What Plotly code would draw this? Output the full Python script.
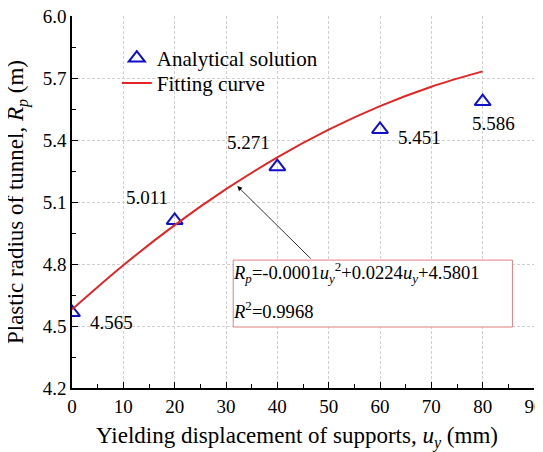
import plotly.graph_objects as go

# Analytical solution points
u_pts = [0, 20, 40, 60, 80]
r_pts = [4.565, 5.011, 5.271, 5.451, 5.586]
labels = ["4.565", "5.011", "5.271", "5.451", "5.586"]
label_dx = [39, -28, -29, 39, 11]
label_dy = [-10, 23, 24, -8, -22]

# Fitting curve
u_fit = [0, 10, 20, 30, 40, 50, 60, 70, 80]
r_fit = [4.580, 4.794, 4.988, 5.162, 5.316, 5.450, 5.564, 5.658, 5.732]

x_ticks = [0, 10, 20, 30, 40, 50, 60, 70, 80, 90]
y_ticks = [4.2, 4.5, 4.8, 5.1, 5.4, 5.7, 6.0]

eq_line1 = "<i>R</i><sub><i>p</i></sub>=-0.0001<i>u</i><sub><i>y</i></sub><sup>2</sup>+0.0224<i>u</i><sub><i>y</i></sub>+4.5801"
eq_line2 = "<i>R</i><sup>2</sup>=0.9968"
y_title = "Plastic radius of tunnel, <i>R</i><sub><i>p</i></sub> (m)"
x_title = "Yielding displacement of supports, <i>u</i><sub><i>y</i></sub> (mm)"

FONT = "Liberation Serif, Times New Roman, serif"
BLUE = "#1010c8"
RED = "#e02626"

fig = go.Figure()
fig.add_trace(go.Scatter(
    x=u_pts, y=r_pts, mode="markers", name="Analytical solution", legend="legend",
    marker=dict(symbol="triangle-up-open", size=14, color=BLUE, line=dict(width=2, color=BLUE)),
))
fig.add_trace(go.Scatter(
    x=u_fit, y=r_fit, mode="lines", name="Fitting curve", legend="legend2",
    line=dict(color=RED, width=2, shape="spline"),
))

for u, r, t, dx, dy in zip(u_pts, r_pts, labels, label_dx, label_dy):
    fig.add_annotation(x=u, y=r, text=t, showarrow=False, xshift=dx, yshift=dy,
                       font=dict(family=FONT, size=19, color="black"))

# equation box
fig.add_shape(type="rect", xref="x", yref="y", x0=31.4, x1=85.8, y0=4.495, y1=4.819,
              line=dict(color="#e08080", width=1), fillcolor="white", layer="above")
fig.add_annotation(x=31.0, y=4.761, xref="x", yref="y", xanchor="left", yanchor="middle",
                   text=eq_line1, showarrow=False, font=dict(family=FONT, size=18.6, color="black"))
fig.add_annotation(x=31.0, y=4.577, xref="x", yref="y", xanchor="left", yanchor="middle",
                   text=eq_line2, showarrow=False, font=dict(family=FONT, size=18.6, color="black"))
# arrow
fig.add_annotation(
    x=32.2, y=5.177, ax=46.8, ay=4.819, xref="x", yref="y", axref="x", ayref="y",
    text="", showarrow=True, arrowhead=2, arrowsize=1.2, arrowwidth=0.8, arrowcolor="black",
)

# axis titles
fig.add_annotation(x=-0.119, y=0.5, xref="paper", yref="paper", xanchor="center", yanchor="middle",
                   text=y_title, textangle=-90, showarrow=False,
                   font=dict(family=FONT, size=23, color="black"))
fig.add_annotation(x=0.487, y=-0.132, xref="paper", yref="paper", xanchor="center", yanchor="middle",
                   text=x_title, showarrow=False,
                   font=dict(family=FONT, size=23, color="black"))

axis_common = dict(
    showline=True, linecolor="black", linewidth=1.5, mirror=False,
    ticks="inside", ticklen=6, tickwidth=1.2, tickcolor="black",
    showgrid=True, gridcolor="#d0d0d0", gridwidth=1, griddash="3px,2px",
    zeroline=False, tickfont=dict(family=FONT, size=19, color="black"),
    automargin=False, ticklabeloverflow="allow",
)

fig.update_xaxes(
    range=[0, 90], tickvals=x_ticks, ticktext=[str(v) for v in x_ticks],
    minor=dict(ticks="inside", dtick=5, tick0=0, ticklen=4, tickcolor="black", showgrid=False),
    **axis_common,
)
fig.update_yaxes(
    range=[4.2, 6.0], tickvals=y_ticks, ticktext=[f"{v:.1f}" for v in y_ticks],
    minor=dict(ticks="inside", dtick=0.15, tick0=4.2, ticklen=4, tickcolor="black", showgrid=False),
    **axis_common,
)

legend_common = dict(xanchor="left", yanchor="top", bgcolor="rgba(0,0,0,0)", borderwidth=0,
                     font=dict(family=FONT, size=21, color="black"), itemsizing="trace")

fig.update_layout(
    width=543, height=452,
    margin=dict(l=64, r=17, t=8, b=72),
    paper_bgcolor="white", plot_bgcolor="white",
    showlegend=True,
    legend=dict(x=0.097, y=0.941, **legend_common),
    legend2=dict(x=0.097, y=0.874, **legend_common),
)

fig.write_html("out.html")
